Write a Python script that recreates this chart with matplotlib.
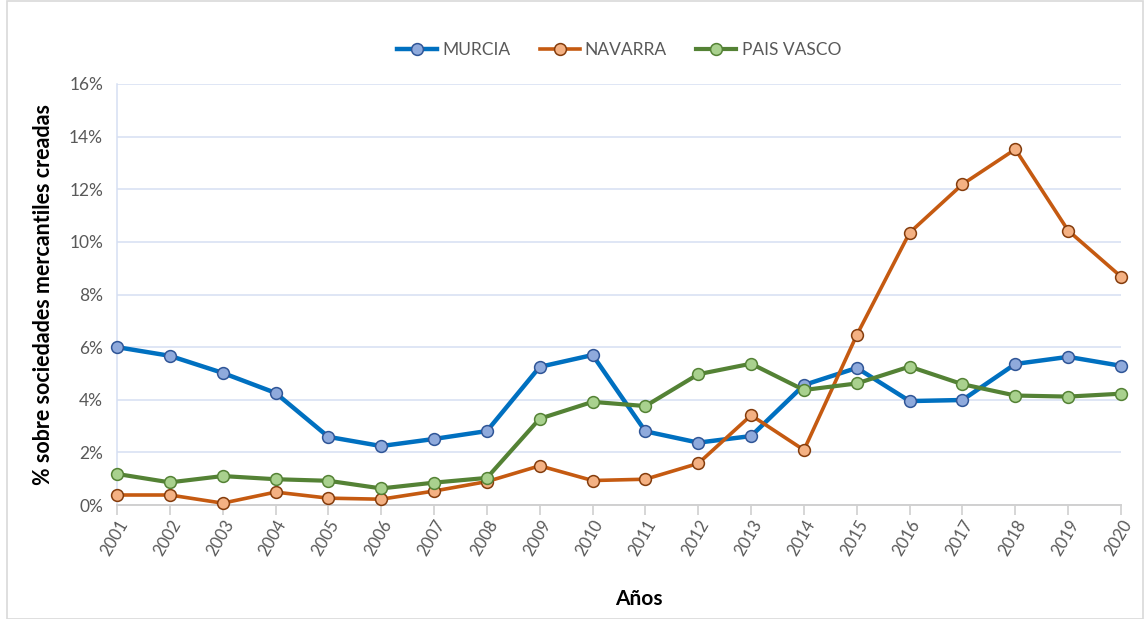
import matplotlib.pyplot as plt
from matplotlib.patches import Rectangle
from matplotlib.ticker import FuncFormatter

plt.rcParams['font.family'] = ['Lato', 'DejaVu Sans']

# ── datos ──────────────────────────────────
years = list(range(2001, 2021))
murcia = [6.00, 5.67, 5.02, 4.26, 2.59, 2.24, 2.51, 2.81, 5.25, 5.70,
          2.80, 2.37, 2.62, 4.56, 5.21, 3.95, 3.99, 5.36, 5.63, 5.29]
navarra = [0.38, 0.38, 0.07, 0.49, 0.26, 0.22, 0.53, 0.89, 1.49, 0.93,
           0.98, 1.58, 3.41, 2.09, 6.46, 10.35, 12.19, 13.52, 10.43, 8.68]
pais_vasco = [1.18, 0.86, 1.10, 0.98, 0.92, 0.63, 0.85, 1.03, 3.28, 3.92,
              3.76, 4.97, 5.37, 4.37, 4.62, 5.26, 4.59, 4.16, 4.12, 4.23]
yticks = [0, 2, 4, 6, 8, 10, 12, 14, 16]

series = [
    ('MURCIA', murcia, '#0070c0', '#8faadc', '#2f5597', 3.2),
    ('NAVARRA', navarra, '#c55a11', '#f4b183', '#843c0c', 2.6),
    ('PAIS VASCO', pais_vasco, '#548235', '#a9d18e', '#548235', 3.0),
]

W, H = 1144, 619
fig = plt.figure(figsize=(W / 100, H / 100), dpi=100)
ax = fig.add_axes([117 / W, 1 - 505 / H, (1121 - 117) / W, (505 - 84) / H])

fig.patches.append(Rectangle((7 / W, 0), 1 - 7 / W - 0.001, 1 - 1 / H,
                             transform=fig.transFigure, fill=False,
                             edgecolor='#d9d9d9', lw=1.2))

for name, vals, lc, fc, ec, lw in series:
    ax.plot(years, vals, '-o', color=lc, lw=lw, ms=8.5, mfc=fc, mec=ec,
            mew=1.1, label=name, zorder=3, clip_on=False)

ax.set_xlim(years[0], years[-1])
ax.set_ylim(0, 16)
ax.set_yticks(yticks)
ax.yaxis.set_major_formatter(FuncFormatter(lambda v, p: f'{v:.0f}%'))
ax.set_xticks(years)
ax.set_xticklabels([str(y) for y in years], rotation=60, ha='right',
                   rotation_mode='anchor')

ax.grid(axis='y', color='#d6dff2', lw=1.1, zorder=0)
for s in ['top', 'right']:
    ax.spines[s].set_visible(False)
ax.spines['left'].set_color('#d6dff2')
ax.spines['left'].set_linewidth(1.1)
ax.spines['bottom'].set_color('#d0d0d0')
ax.spines['bottom'].set_linewidth(1.4)
ax.tick_params(axis='y', length=0, labelsize=12.5, colors='#595959', pad=10)
ax.tick_params(axis='x', length=7, width=1.2, color='#d0d0d0',
               labelsize=12, labelcolor='#595959', pad=2)

ax.set_ylabel('% sobre sociedades mercantiles creadas', fontsize=15.5,
              fontweight='bold', labelpad=11)
ax.set_xlabel('Años', fontsize=15, fontweight='bold')
ax.xaxis.set_label_coords(0.52, -0.2)

ax.legend(loc='center', bbox_to_anchor=(0.5, 1.0 + 34 / 421), ncol=3,
          frameon=False, fontsize=12.5, handlelength=2.3, columnspacing=1.7,
          handletextpad=0.3, labelcolor='#595959')

fig.savefig('out.png', dpi=100)
